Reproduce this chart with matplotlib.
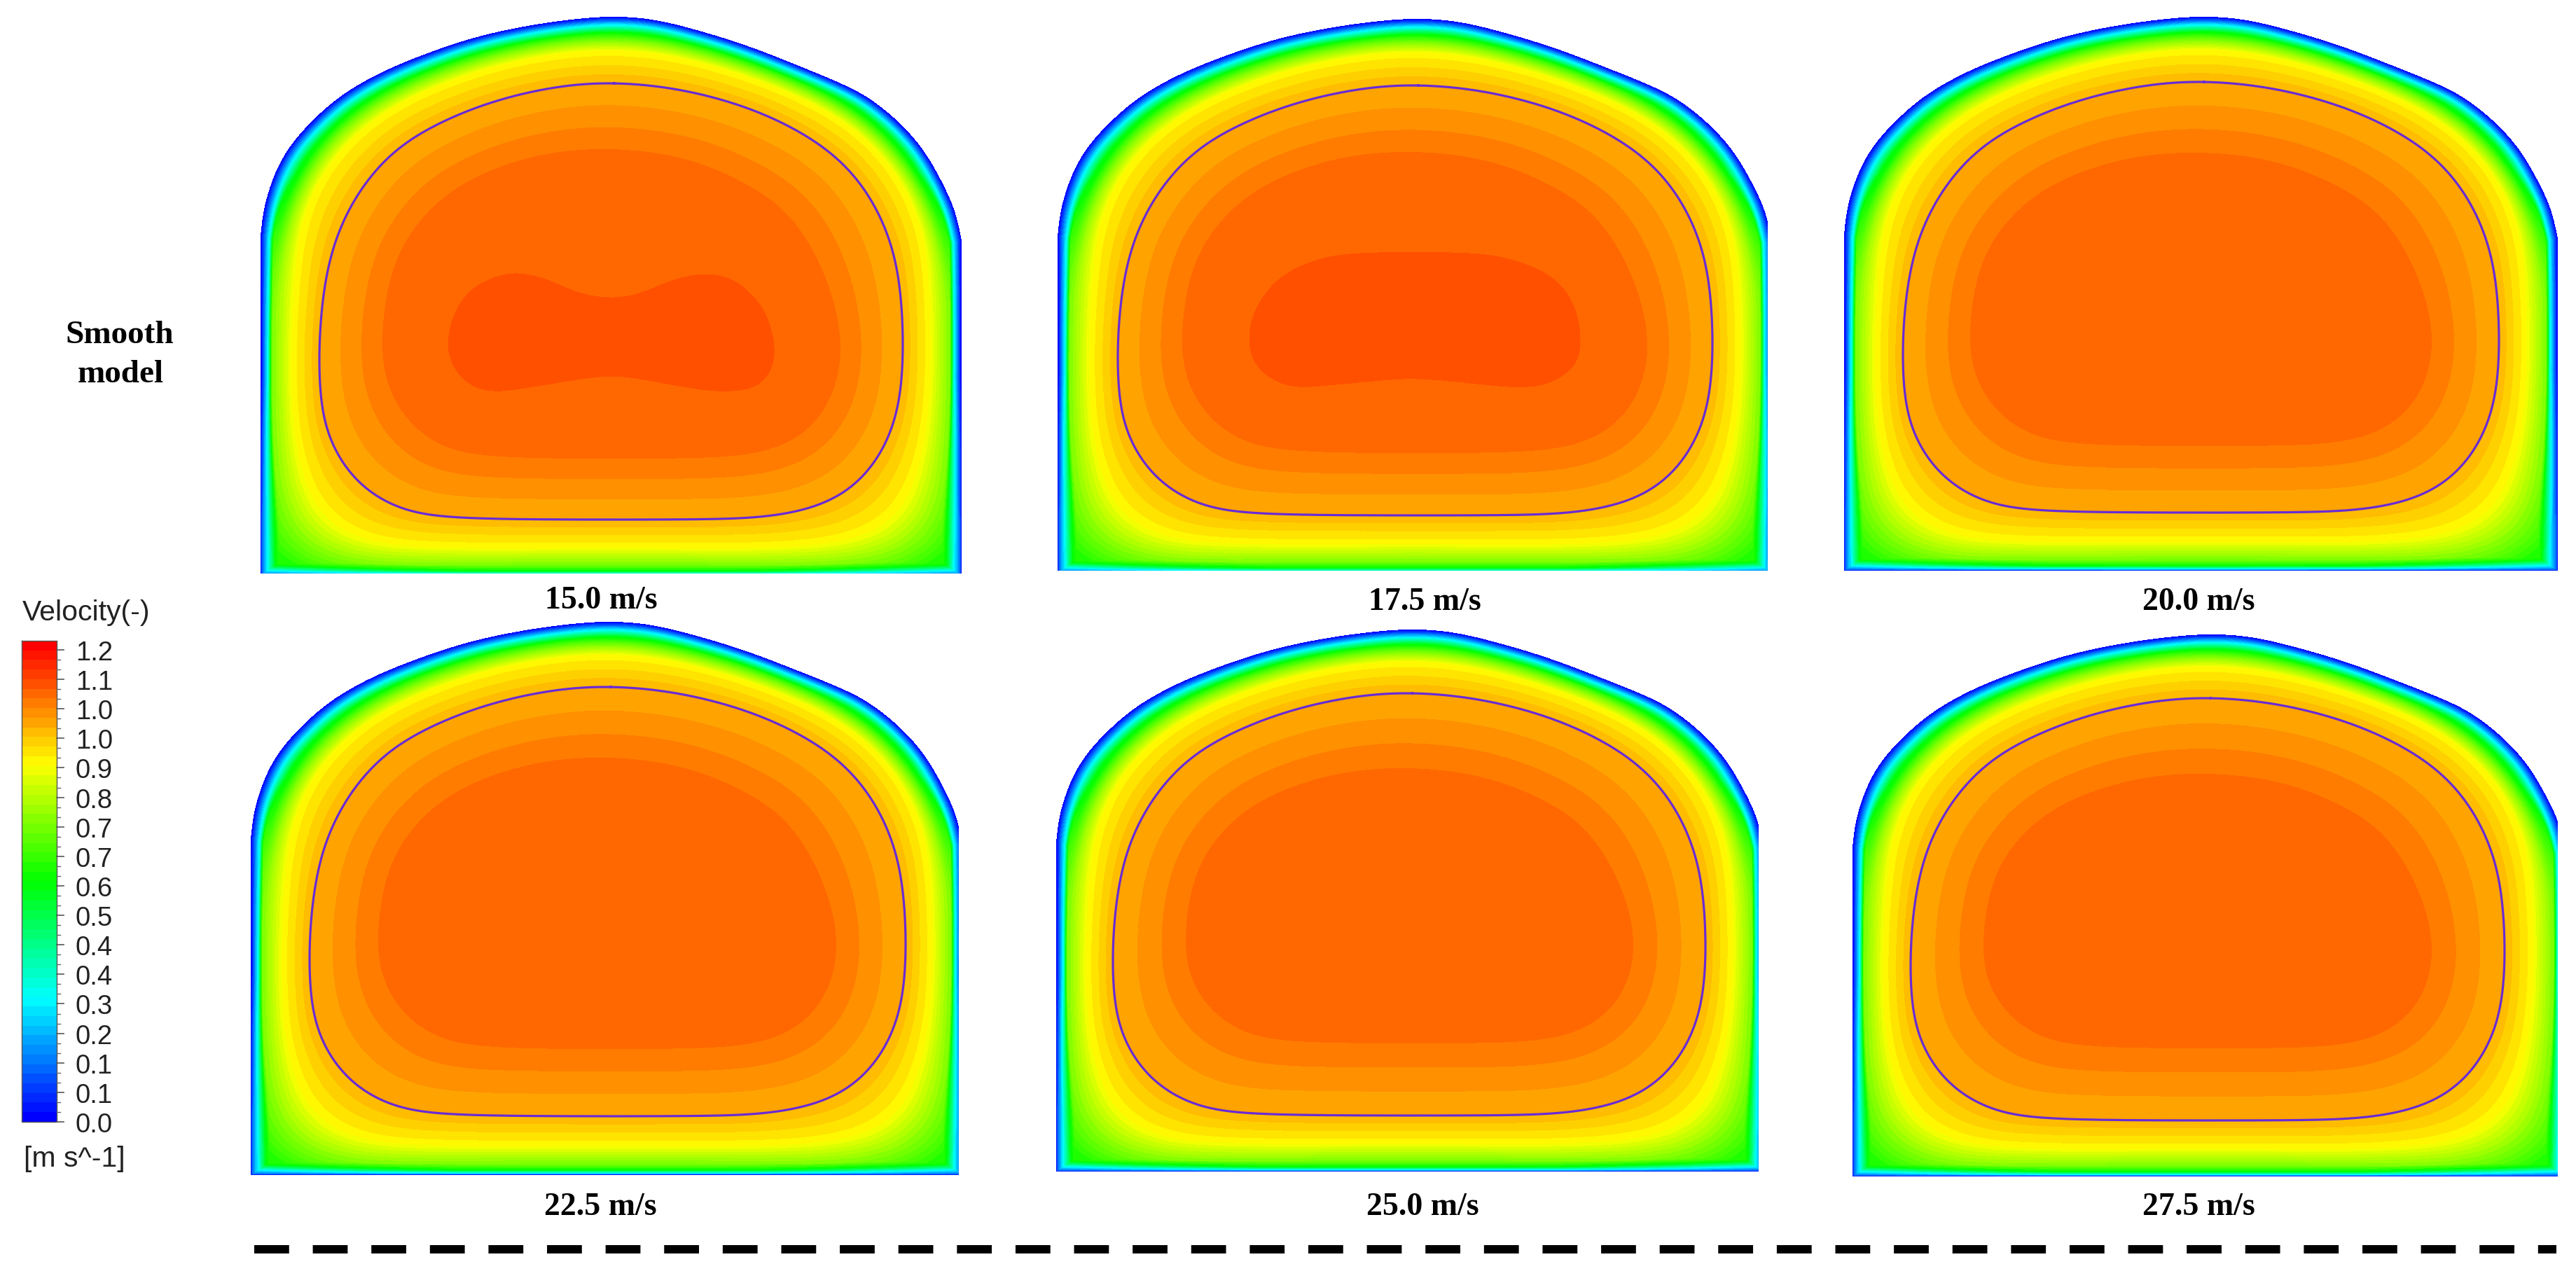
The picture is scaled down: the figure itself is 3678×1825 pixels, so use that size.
import numpy as np
import matplotlib
matplotlib.use("Agg")
import matplotlib.pyplot as plt
from matplotlib.colors import LinearSegmentedColormap, ListedColormap, BoundaryNorm

W_PX, H_PX = 3678, 1825

# ---------- data ----------
speed_labels = ["15.0 m/s", "17.5 m/s", "20.0 m/s", "22.5 m/s", "25.0 m/s", "27.5 m/s"]
label_x = [858, 2034, 3139, 857, 2031, 3139]
label_y = [858, 860, 860, 1724, 1724, 1724]

cbar_labels = ["0.0", "0.1", "0.1", "0.2", "0.3", "0.4", "0.4", "0.5", "0.6",
               "0.7", "0.7", "0.8", "0.9", "1.0", "1.0", "1.1", "1.2"]
cbar_top_value = 1.223
n_bands = 50

# wall extents per panel (full-size pixels)
wall_left = [372, 1510, 2633, 358, 1508, 2645]
wall_right = [1373, 2530, 3652, 1374, 2518, 3663]
wall_top = [24, 27, 24, 888, 899, 906]
wall_bottom = [822, 818, 815, 1678, 1673, 1680]
clip_right = [1373, 2524, 3652, 1369, 2511, 3652]
clip_bottom = [819, 815, 815, 1678, 1673, 1680]

# isoline (purple) extents per panel
iso_left = [456, 1596, 2717, 442, 1589, 2728]
iso_right = [1289, 2445, 3568, 1293, 2435, 3576]
iso_top = [119, 122, 117, 981, 990, 997]
iso_bottom = [742, 736, 732, 1594, 1593, 1600]

# core (orange) extents per panel
core_left = [546, 1688, 2813, 540, 1693, 2832]
core_right = [1200, 2352, 3472, 1194, 2332, 3472]
core_top = [213, 217, 218, 1082, 1097, 1105]
core_bottom = [655, 647, 637, 1498, 1490, 1497]

# shapes, traced in crop coordinates of the 15.0 m/s panel
wall_arch_x = [48, 55, 75, 105, 150, 215, 300, 400, 500, 600, 700, 790, 880, 980, 1080, 1180, 1280, 1340, 1400, 1450, 1490, 1515, 1528]
wall_arch_y = [600, 530, 450, 380, 315, 245, 185, 135, 95, 68, 50, 42, 50, 80, 118, 165, 215, 255, 315, 385, 470, 540, 610]

iso_shape_x = [790, 900, 1000, 1100, 1200, 1280, 1340, 1380, 1398, 1404, 1400, 1380, 1340, 1280, 1200, 1100, 1000, 790, 500, 400, 330, 260, 210, 185, 175, 172, 185, 215, 265, 330, 400, 500, 600, 700]
iso_shape_y = [212, 222, 248, 285, 345, 415, 510, 620, 730, 870, 1000, 1100, 1190, 1260, 1300, 1318, 1322, 1322, 1322, 1312, 1290, 1240, 1160, 1080, 1000, 870, 700, 580, 470, 385, 330, 275, 240, 218]

core_shape_x = [790, 900, 1000, 1100, 1170, 1230, 1260, 1272, 1260, 1230, 1170, 1080, 980, 790, 540, 450, 380, 335, 310, 305, 320, 360, 430, 520, 620, 700]
core_shape_y = [380, 392, 425, 490, 550, 680, 790, 890, 980, 1060, 1130, 1160, 1168, 1168, 1168, 1150, 1100, 1030, 950, 860, 700, 600, 500, 440, 400, 385]

# peak regions in full-size pixels (two slowest panels only)
peak1_x = [874, 915, 962, 1009, 1050, 1084, 1100, 1106, 1100, 1077, 1036, 989, 928, 874, 813, 759, 712, 678, 651, 639, 648, 671, 705, 739, 779, 827]
peak1_y = [425, 418, 399, 391, 401, 432, 466, 499, 530, 553, 559, 555, 544, 537, 544, 553, 559, 553, 530, 494, 449, 415, 396, 390, 398, 418]
peak2_x = [2020, 2111, 2167, 2217, 2248, 2257, 2248, 2217, 2181, 2132, 2076, 2013, 1957, 1901, 1852, 1817, 1792, 1783, 1792, 1824, 1873, 1929]
peak2_y = [360, 362, 373, 396, 436, 488, 522, 545, 553, 551, 545, 541, 545, 550, 553, 542, 519, 485, 442, 399, 373, 362]

# inner velocity bands: position between isoline (0) and rounded wall (1)
in_side_f = [0.0, 0.43, 0.72, 1.0, 1.5]
in_side_band = [41.0, 37.5, 32.0, 27.0, 23.0]
in_roof_f = [0.0, 0.48, 0.65, 0.765, 1.0, 1.5]
in_roof_band = [41.0, 37.5, 31.0, 25.0, 20.0, 18.0]
in_floor_f = [0.0, 0.47, 0.83, 1.0, 1.5]
in_floor_band = [41.0, 37.5, 30.0, 25.0, 23.0]

# near-wall velocity bands: position between isoline (0) and true wall (1)
wall_side_f = [0.0, 0.75, 0.82, 0.87, 0.95, 1.0]
wall_side_band = [60.0, 40.0, 28.0, 14.0, 5.0, 0.0]
wall_roof_f = [0.0, 0.60, 0.765, 0.88, 0.95, 1.0]
wall_roof_band = [60.0, 45.0, 25.0, 12.5, 5.0, 0.0]
wall_floor_f = [0.0, 0.75, 0.83, 0.915, 0.97, 0.99, 1.0]
wall_floor_band = [60.0, 45.0, 30.0, 25.0, 12.5, 5.0, 0.0]
wall_corner_f = [0.0, 0.70, 0.80, 0.87, 0.94, 0.99, 1.0]
wall_corner_band = [60.0, 40.0, 30.0, 25.0, 12.5, 5.0, 0.0]
ISO_BAND, CORE_BAND = 41.0, 44.0

# ---------- helpers ----------
def catmull(x, y, closed=True, n=24):
    p = np.column_stack([x, y]).astype(float)
    if closed:
        p = np.vstack([p[-1], p, p[0], p[1]])
    else:
        p = np.vstack([p[0], p, p[-1]])
    out = []
    t = np.linspace(0, 1, n, endpoint=False)[:, None]
    for i in range(1, len(p) - 2):
        a, b, c, d = p[i - 1], p[i], p[i + 1], p[i + 2]
        out.append(0.5 * (2 * b + (c - a) * t + (2 * a - 5 * b + 4 * c - d) * t**2 + (3 * b - a - 3 * c + d) * t**3))
    return np.vstack(out)


def gauss(sigma):
    k = np.arange(-3 * sigma, 3 * sigma + 1)
    g = np.exp(-0.5 * (k / sigma) ** 2)
    return g / g.sum()


def smooth(pts, sigma, closed=True):
    g = gauss(sigma)
    m = len(g) // 2
    if closed:
        pad = np.vstack([pts[-m:], pts, pts[:m]])
    else:
        pad = np.vstack([np.repeat(pts[:1], m, axis=0), pts, np.repeat(pts[-1:], m, axis=0)])
    return np.column_stack([np.convolve(pad[:, c], g, mode="valid") for c in (0, 1)])


def fit_box(pts, l, r, t, b):
    x0, x1 = pts[:, 0].min(), pts[:, 0].max()
    y0, y1 = pts[:, 1].min(), pts[:, 1].max()
    return np.column_stack([l + (pts[:, 0] - x0) / (x1 - x0) * (r - l),
                            t + (pts[:, 1] - y0) / (y1 - y0) * (b - t)])


def polar_fn(pts, cx, cy):
    th = np.arctan2(pts[:, 1] - cy, pts[:, 0] - cx)
    r = np.hypot(pts[:, 0] - cx, pts[:, 1] - cy)
    o = np.argsort(th)
    th, r = th[o], r[o]
    return lambda q: np.interp(q, th, r, period=2 * np.pi)


def rounded_polar(fn, sigma=24, n=1440):
    q = np.linspace(-np.pi, np.pi, n, endpoint=False)
    v = fn(q)
    g = gauss(sigma)
    m = len(g) // 2
    sm = np.convolve(np.concatenate([v[-m:], v, v[:m]]), g, mode="valid")
    return lambda a: np.interp(a, q, sm, period=2 * np.pi)


arch_src = smooth(catmull(wall_arch_x, wall_arch_y, closed=False), 7, closed=False)


def wall_curve(l, r, t, b):
    arch = np.vstack([arch_src, [wall_arch_x[-1], wall_arch_y[-1]]])
    x0, x1 = min(wall_arch_x), max(wall_arch_x)
    ax_ = l + (arch[:, 0] - x0) / (x1 - x0) * (r - l)
    frac = (1460 - arch[:, 1]) / (1460 - arch[:, 1].min())
    ay_ = b - frac * (b - t)
    ys = np.linspace(ay_[-1], b, 400)
    xs = np.linspace(r, l, 1600)
    ysl = np.linspace(b, ay_[0], 400)
    return np.vstack([np.column_stack([ax_, ay_]),
                      np.column_stack([np.full_like(ys, r), ys]),
                      np.column_stack([xs, np.full_like(xs, b)]),
                      np.column_stack([np.full_like(ysl, l), ysl])]), ay_[0]


def sstep(a):
    a = np.clip(a, 0, 1)
    return a * a * (3 - 2 * a)


# ---------- figure ----------
plt.rcParams["font.family"] = ["Liberation Sans", "DejaVu Sans"]
fig = plt.figure(figsize=(W_PX / 100, H_PX / 100), dpi=100, facecolor="white")
ax = fig.add_axes([0, 0, 1, 1])

rainbow = LinearSegmentedColormap.from_list("r", ["#0000ff", "#00ffff", "#00ff00", "#ffff00", "#ff0000"])
band_colors = rainbow(np.arange(n_bands) / (n_bands - 1))
cmap = ListedColormap(band_colors)
band_value = cbar_top_value / n_bands
norm = BoundaryNorm(np.arange(n_bands + 1) * band_value, n_bands)

peaks = {0: (peak1_x, peak1_y), 1: (peak2_x, peak2_y)}
iso_src = smooth(catmull(iso_shape_x, iso_shape_y), 16)
core_src = smooth(catmull(core_shape_x, core_shape_y), 16)

for i in range(6):
    L, R, T, B = wall_left[i], wall_right[i], wall_top[i], wall_bottom[i]
    cx = 0.5 * (iso_left[i] + iso_right[i])
    cy = iso_top[i] + 0.58 * (iso_bottom[i] - iso_top[i])
    wall, shoulder = wall_curve(L, R, T, B)
    iso = fit_box(iso_src, iso_left[i], iso_right[i], iso_top[i], iso_bottom[i])
    core = fit_box(core_src, core_left[i], core_right[i], core_top[i], core_bottom[i])
    rw_f, rp_f, rc_f = polar_fn(wall, cx, cy), polar_fn(iso, cx, cy), polar_fn(core, cx, cy)
    rs_f = rounded_polar(rw_f)

    xs = np.arange(L, clip_right[i]) + 0.5
    ys = np.arange(T, clip_bottom[i]) + 0.5
    X, Y = np.meshgrid(xs, ys)
    th = np.arctan2(Y - cy, X - cx)
    r = np.hypot(X - cx, Y - cy)
    rw, rp, rc, rs = rw_f(th), rp_f(th), rc_f(th), rs_f(th)
    f = (r - rp) / np.maximum(rw - rp, 1e-6)
    fs = (r - rp) / np.maximum(rs - rp, 1.0)

    # inner bands: weights vary smoothly with direction
    from_down = np.degrees(np.abs(np.arctan2(X - cx, Y - cy)))
    w_f = sstep((60 - from_down) / 30)
    w_r = sstep((from_down - 95) / 25)
    w_s = 1 - w_f - w_r
    inner = (w_s * np.interp(fs, in_side_f, in_side_band) + w_r * np.interp(fs, in_roof_f, in_roof_band)
             + w_f * np.interp(fs, in_floor_f, in_floor_band))

    # near-wall bands follow the real wall
    x_hit = cx + rw * np.cos(th)
    y_hit = cy + rw * np.sin(th)
    d_corner = np.minimum(np.hypot(x_hit - L, y_hit - B), np.hypot(x_hit - R, y_hit - B))
    w_corner = np.clip(1 - d_corner / (0.28 * (R - L)), 0, 1)
    w_floor = (y_hit >= B - 1.5) * (1 - w_corner)
    w_roof = np.clip((shoulder - y_hit) / (0.12 * (B - T)), 0, 1) * (1 - w_corner)
    w_side = 1 - w_corner - w_floor - w_roof
    near = (w_side * np.interp(f, wall_side_f, wall_side_band) + w_roof * np.interp(f, wall_roof_f, wall_roof_band)
            + w_floor * np.interp(f, wall_floor_f, wall_floor_band) + w_corner * np.interp(f, wall_corner_f, wall_corner_band))
    outer = np.minimum(inner, near)

    mid = CORE_BAND + (ISO_BAND - CORE_BAND) * (r - rc) / np.maximum(rp - rc, 1e-6)
    s = np.where(r >= rp, outer, np.where(r >= rc, mid, CORE_BAND + 0.5))
    if i in peaks:
        pk = smooth(catmull(*peaks[i]), 6)
        rk = polar_fn(pk, cx, cy)(th)
        s = np.where(r < rk, CORE_BAND + 1.5, s)
    field = np.ma.masked_where(f > 1, s * band_value)
    ax.imshow(field, extent=(L, clip_right[i], clip_bottom[i], T), cmap=cmap, norm=norm,
              interpolation="nearest", aspect="auto", zorder=1)
    closed = np.vstack([iso, iso[0]])
    ax.plot(closed[:, 0], closed[:, 1], color="#6A2BD4", lw=2.3, zorder=3)
    ax.text(label_x[i], label_y[i], speed_labels[i], family="Liberation Serif", fontweight="bold",
            fontsize=33, ha="center", va="center", color="black", zorder=4)

# colour bar
CB_L, CB_R, CB_T, CB_B = 31, 81, 915, 1602
grad = (np.arange(n_bands)[::-1, None] + 0.5) * band_value
ax.imshow(grad, extent=(CB_L, CB_R, CB_B, CB_T), cmap=cmap, norm=norm, interpolation="nearest", aspect="auto", zorder=1)
ax.plot([CB_L, CB_L, CB_R, CB_R, CB_L], [CB_T, CB_B, CB_B, CB_T, CB_T], color="#555555", lw=1.0, zorder=2)
major_step = 0.075
to_y = lambda v: CB_B - v / cbar_top_value * (CB_B - CB_T)
for j, lab in enumerate(cbar_labels):
    y = to_y(j * major_step)
    ax.plot([CB_R, CB_R + 10], [y, y], color="#555555", lw=1.2, zorder=2)
    ax.text(161, y + 5, lab, fontsize=27.5, ha="right", va="center", color="#222222")
    if j < len(cbar_labels) - 1:
        for m in (1, 2):
            ym = to_y((j + m / 3) * major_step)
            ax.plot([CB_R, CB_R + 5], [ym, ym], color="#666666", lw=1.0, zorder=2)
ax.text(32, 875, "Velocity(-)", fontsize=29.5, ha="left", va="center", color="#222222")
ax.text(34, 1655, "[m s^-1]", fontsize=29.5, ha="left", va="center", color="#222222")

# row title
ax.text(171, 479, "Smooth", family="Liberation Serif", fontweight="bold", fontsize=34, ha="center", va="center")
ax.text(172, 535, "model", family="Liberation Serif", fontweight="bold", fontsize=34, ha="center", va="center")

# dashed divider
ax.plot([363, 3650], [1784, 1784], color="black", lw=8.6, dashes=(50 / 12, 34 / 12), dash_capstyle="butt")

ax.set_xlim(0, W_PX)
ax.set_ylim(H_PX, 0)
ax.axis("off")
fig.savefig("out.png", dpi=100, facecolor="white")
